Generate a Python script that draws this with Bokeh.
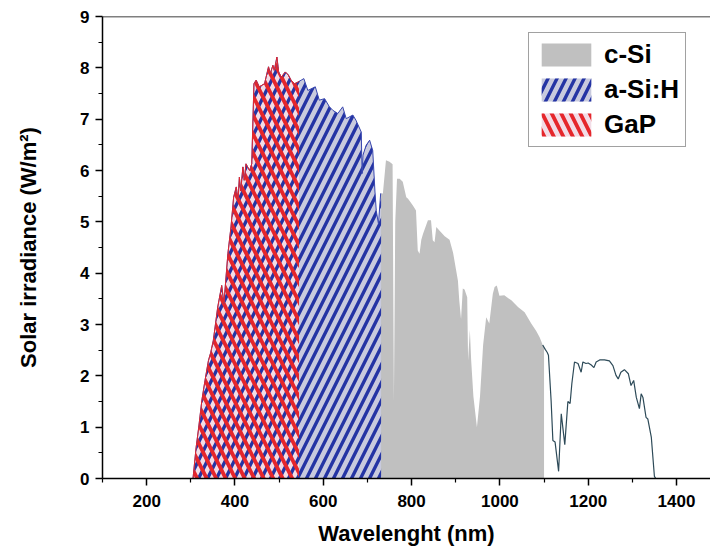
import numpy as np
from bokeh.plotting import figure
from bokeh.models import FixedTicker, Span, Legend, LegendItem
from bokeh.embed import file_html
from bokeh.resources import INLINE

# ---- data ----
wavelength = [100, 250, 300, 305, 312, 318, 325, 332, 340, 345, 351, 361, 370, 375, 384, 391, 397,
              403, 407, 410, 413, 418, 421, 425, 433, 438, 443, 448, 455, 467, 476, 480, 486, 489,
              495, 499, 505, 514, 521, 527, 535, 542, 550, 556, 565, 582, 591, 603, 614, 622, 633,
              644, 652, 667, 674, 686, 688, 690, 697, 705, 712, 717, 720, 725, 730, 735, 742, 750,
              757, 760, 763, 767, 773, 780, 788, 792, 803, 810, 814, 818, 822, 826, 837, 844, 848,
              852, 856, 863, 875, 886, 894, 901, 905, 908, 912, 916, 920, 926, 928, 932, 935, 940,
              948, 955, 962, 969, 976, 984, 988, 993, 999, 1010, 1026, 1041, 1056, 1071, 1082, 1090,
              1097, 1103, 1107, 1110, 1116, 1120, 1125, 1133, 1139, 1147, 1154, 1159, 1163, 1169,
              1177, 1184, 1188, 1195, 1200, 1207, 1213, 1218, 1226, 1237, 1248, 1256, 1263, 1268,
              1274, 1282, 1291, 1297, 1303, 1309, 1316, 1320, 1324, 1331, 1335, 1343, 1350, 1353, 1477]
irradiance = [0, 0, 0, 0.0, 0.6, 1.0, 1.52, 1.9, 2.3, 2.45, 2.69, 3.34, 3.76, 3.41, 4.38, 4.90, 5.48,
              5.68, 5.42, 5.87, 5.60, 6.07, 5.81, 6.13, 6.00, 6.13, 7.69, 7.76, 7.63, 7.69, 8.02, 7.89,
              8.05, 7.95, 8.21, 7.92, 7.82, 7.92, 7.86, 7.76, 7.69, 7.72, 7.76, 7.79, 7.56, 7.63, 7.37,
              7.40, 7.24, 7.17, 7.11, 7.24, 7.01, 7.08, 6.98, 6.75, 5.94, 6.30, 6.49, 6.59, 6.39, 5.60,
              5.22, 4.96, 5.55, 5.55, 6.20, 6.17, 6.12, 1.5, 5.0, 5.84, 5.84, 5.78, 5.48, 5.45, 5.32,
              5.22, 4.44, 4.38, 4.65, 4.77, 5.03, 5.03, 4.64, 4.60, 4.90, 4.83, 4.72, 4.65, 4.40, 4.05,
              3.85, 3.47, 3.10, 3.70, 3.68, 3.53, 2.3, 2.9, 2.3, 1.6, 1.0, 1.6, 2.6, 3.14, 3.02, 3.60,
              3.73, 3.76, 3.56, 3.57, 3.47, 3.34, 3.24, 3.02, 2.88, 2.75, 2.60, 2.51, 2.46, 2.40, 1.52,
              0.74, 0.71, 0.14, 1.26, 0.66, 1.50, 1.46, 1.85, 2.27, 2.24, 2.07, 2.27, 2.24, 2.25, 2.21,
              2.16, 2.27, 2.31, 2.31, 2.29, 2.20, 2.01, 1.94, 2.07, 2.12, 2.04, 1.81, 1.91, 1.58, 1.36,
              1.65, 1.58, 1.19, 1.16, 0.80, 0.04, 0, 0]

band_start = 300      # nm, start of absorption for all three
csi_edge = 1100       # nm
asi_edge = 731        # nm
gap_edge = 545        # nm

x_major = [200, 400, 600, 800, 1000, 1200, 1400]
x_minor = [100, 300, 500, 700, 900, 1100, 1300]
y_major = [0, 1, 2, 3, 4, 5, 6, 7, 8, 9]
y_minor = [0.5, 1.5, 2.5, 3.5, 4.5, 5.5, 6.5, 7.5, 8.5]

FONT = "Liberation Sans"

wl = np.array(wavelength, float)
ir = np.array(irradiance, float)


def clip(lo, hi):
    inner = (wl > lo) & (wl < hi)
    xs = np.concatenate([[lo], wl[inner], [hi]])
    ys = np.concatenate([[np.interp(lo, wl, ir)], ir[inner], [np.interp(hi, wl, ir)]])
    return xs, ys


p = figure(output_backend="svg", toolbar_location=None,
           width=710, height=552, frame_width=608, frame_height=462,
           x_range=(100, 1477), y_range=(0, 9),
           min_border_left=102, min_border_right=0, min_border_top=16, min_border_bottom=74)
p.outline_line_color = None
p.xgrid.visible = False
p.ygrid.visible = False
p.background_fill_color = "white"

# c-Si
cx, cy = clip(band_start, csi_edge)
r_csi = p.varea(x=cx, y1=np.zeros_like(cy), y2=cy, fill_color="#c0c0c0")

# a-Si:H and GaP backgrounds
ax, ay = clip(band_start, asi_edge)
r_asi_bg = p.varea(x=ax, y1=np.zeros_like(ay), y2=ay, fill_color="#c8cade")
gx, gy = clip(band_start, gap_edge)
r_gap_bg = p.varea(x=gx, y1=np.zeros_like(gy), y2=gy, fill_color="#f2dce6")

# hatches
r_asi_h = p.varea(x=ax, y1=np.zeros_like(ay), y2=ay, fill_alpha=0,
                  hatch_pattern="/", hatch_color="#2434a4", hatch_weight=3.4, hatch_scale=18)
r_gap_h = p.varea(x=gx, y1=np.zeros_like(gy), y2=gy, fill_alpha=0,
                  hatch_pattern="\\", hatch_color="#e5262b", hatch_weight=3.8, hatch_scale=19)

p.line(ax, ay, line_color="#3a48b0", line_width=1)
p.line(gx, gy, line_color="#e5262b", line_width=1)

# tail of spectrum beyond c-Si edge
tail = wl >= 1097
p.line(wl[tail], ir[tail], line_color="#2d4a58", line_width=1.2)
low = (wl >= 250) & (wl <= band_start)
p.line(wl[low], ir[low], line_color="#e5262b", line_width=1)

# top frame line
p.add_layout(Span(location=9, dimension="width", line_color="black", line_width=1.5))

for ax_ in (p.xaxis[0], p.yaxis[0]):
    ax_.axis_line_width = 1.5
    ax_.major_tick_line_width = 1.5
    ax_.minor_tick_line_width = 1.2
    ax_.major_tick_out = 7
    ax_.major_tick_in = 0
    ax_.minor_tick_out = 4
    ax_.minor_tick_in = 0
    ax_.major_label_text_font = FONT
    ax_.major_label_text_font_style = "bold"
    ax_.major_label_text_font_size = "17px"
    ax_.major_label_text_color = "black"
    ax_.axis_label_text_font = FONT
    ax_.axis_label_text_font_style = "bold"
    ax_.axis_label_text_font_size = "22px"
    ax_.axis_label_text_color = "black"

p.xaxis.ticker = FixedTicker(ticks=x_major, minor_ticks=x_minor)
p.yaxis.ticker = FixedTicker(ticks=y_major, minor_ticks=y_minor)
p.xaxis.axis_label = "Wavelenght (nm)"
p.yaxis.axis_label = "Solar irradiance (W/m²)"
p.xaxis.major_label_standoff = 9
p.xaxis.axis_label_standoff = 11
p.yaxis.major_label_standoff = 6
p.yaxis.axis_label_standoff = 36

legend = Legend(items=[LegendItem(label="c-Si", renderers=[r_csi]),
                       LegendItem(label="a-Si:H", renderers=[r_asi_bg, r_asi_h]),
                       LegendItem(label="GaP", renderers=[r_gap_bg, r_gap_h])],
                location=(426, 331))
legend.glyph_width = 62
legend.glyph_height = 29
legend.label_text_font = FONT
legend.label_text_font_style = "bold"
legend.label_text_font_size = "26px"
legend.label_text_color = "black"
legend.label_standoff = 7
legend.padding = 6
legend.spacing = 4
legend.margin = 0
legend.border_line_color = "#444444"
legend.border_line_width = 1
legend.background_fill_alpha = 1
p.add_layout(legend)

open("out.html", "w").write(file_html(p, INLINE))
